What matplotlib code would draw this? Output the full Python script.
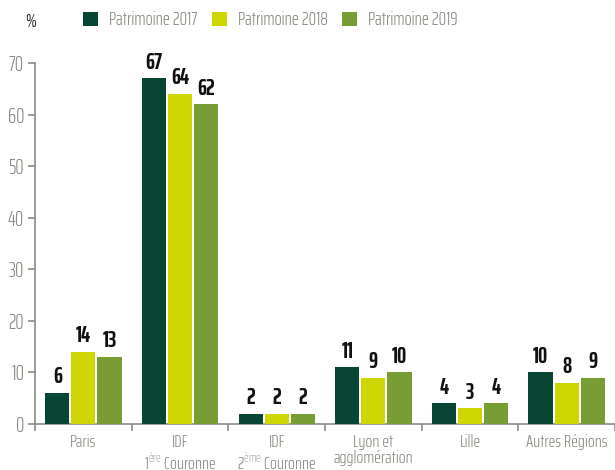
import matplotlib

matplotlib.use("Agg")
import matplotlib.pyplot as plt
import numpy as np

plt.rcParams["font.family"] = ["Saira ExtraCondensed", "DejaVu Sans"]
plt.rcParams["mathtext.fontset"] = "custom"
plt.rcParams["mathtext.rm"] = "Saira ExtraCondensed:light"

# ── données ───────────────────────────────────────────────────────────────
categories = [
    "Paris",
    "IDF\n1$^{\\mathrm{ère}}$ Couronne",
    "IDF\n2$^{\\mathrm{ème}}$ Couronne",
    "Lyon et\nagglomération",
    "Lille",
    "Autres Régions",
]
series_names = ["Patrimoine 2017", "Patrimoine 2018", "Patrimoine 2019"]
vals_2017 = [6, 67, 2, 11, 4, 10]
vals_2018 = [14, 64, 2, 9, 3, 8]
vals_2019 = [13, 62, 2, 10, 4, 9]
y_ticks = [0, 10, 20, 30, 40, 50, 60, 70]

colors = ["#094534", "#CDD600", "#789D35"]
grey = "#8C8C84"

fig = plt.figure(figsize=(6.15, 4.70), dpi=100)
ax = fig.add_axes([0.057, 0.098, 0.943, 0.768])

x = np.arange(len(categories))
width = 0.25
step = 0.27
for i, (vals, name, col) in enumerate(zip([vals_2017, vals_2018, vals_2019], series_names, colors)):
    pos = x + (i - 1) * step
    ax.bar(pos, vals, width=width, color=col, label=name, zorder=3)
    for px, v in zip(pos, vals):
        ax.text(px, v + 0.9, str(v), ha="center", va="bottom",
                fontsize=16.5, fontweight=700, color="#111111")

ax.set_xlim(-0.5, len(categories) - 0.5)
ax.set_ylim(0, 70)
ax.set_yticks(y_ticks)
ax.set_xticks(x)
ax.set_xticklabels(categories, fontsize=13, color=grey, linespacing=1.0,
                   fontweight=300, va="top")
ax.set_xticks(np.arange(len(categories) + 1) - 0.5, minor=True)
ax.tick_params(axis="x", which="major", length=0, pad=7)
ax.tick_params(axis="x", which="minor", length=5, width=1.2, color=grey, direction="out")
ax.tick_params(axis="y", length=5, width=1.2, color=grey, labelsize=15, labelcolor=grey, pad=3)
for lbl in ax.get_yticklabels():
    lbl.set_fontweight(300)

for side in ["top", "right"]:
    ax.spines[side].set_visible(False)
for side in ["left", "bottom"]:
    ax.spines[side].set_color(grey)
    ax.spines[side].set_linewidth(1.2)

# ── légende ───────────────────────────────────────────────────────────────
fig.text(0.05, 0.953, "%", fontsize=14, color="#333333", ha="center", va="center")
leg = ax.legend(loc="center left", bbox_to_anchor=(0.07, 1.118), ncol=3, frameon=False,
                prop={"size": 13.5, "weight": 300}, labelcolor=grey,
                handlelength=0.8, handleheight=0.8,
                handletextpad=0.6, columnspacing=0.75, borderaxespad=0)

fig.savefig("out.png", dpi=100)
plt.close(fig)
